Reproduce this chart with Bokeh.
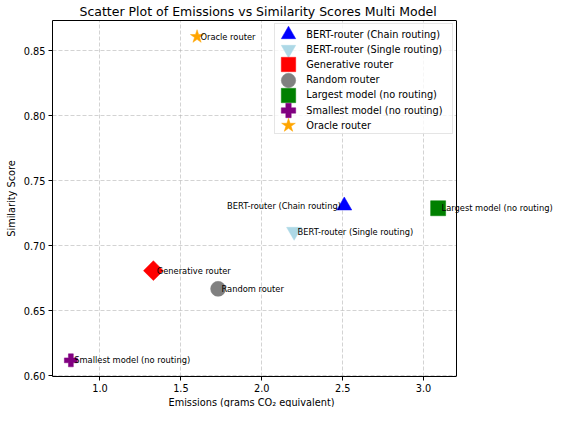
import math
from bokeh.plotting import figure
from bokeh.models import (Range1d, FixedTicker, PrintfTickFormatter, Legend, LegendItem, Label,
                          Span, BoxAnnotation, LinearAxis, Title)
from bokeh.embed import file_html
from bokeh.resources import INLINE

# ---- data ----
routers = [
    "BERT-router (Chain routing)",
    "BERT-router (Single routing)",
    "Generative router",
    "Random router",
    "Largest model (no routing)",
    "Smallest model (no routing)",
    "Oracle router",
]
emissions = [2.51, 2.20, 1.33, 1.73, 3.09, 0.82, 1.60]
similarity = [0.731, 0.711, 0.681, 0.667, 0.729, 0.612, 0.861]
x_ticks = [1.0, 1.5, 2.0, 2.5, 3.0]
y_ticks = [0.60, 0.65, 0.70, 0.75, 0.80, 0.85]

title_text = "Scatter Plot of Emissions vs Similarity Scores Multi Model"
x_label = "Emissions (grams CO\u2082 equivalent)"
y_label = "Similarity Score"

# ---- styles ----
markers = ["triangle", "inverted_triangle", "square", "circle", "square", "plus", "star"]
angles = [0, 0, math.pi / 4, 0, 0, 0, 0]
sizes = [15, 15, 14, 15, 15, 13, 14]
colors = ["blue", "lightblue", "red", "gray", "green", "purple", "orange"]
label_side = ["right", "left", "left", "left", "left", "left", "left"]

FONT = "DejaVu Sans"
AX_W, FRAME_H = 404, 356      # visible axes box
EXTRA_W = 99                  # room right of the axes box for overhanging point labels

# matplotlib-like 5% margins
def padded(vals, frac=0.05):
    lo, hi = min(vals), max(vals)
    pad = (hi - lo) * frac
    return lo - pad, hi + pad

x0, x1 = padded(emissions)
y0, y1 = padded(similarity)
x_end = x1 + (x1 - x0) * EXTRA_W / AX_W

p = figure(
    frame_width=AX_W + EXTRA_W, frame_height=FRAME_H,
    x_range=Range1d(x0, x_end), y_range=Range1d(y0, y1),
    output_backend="svg", toolbar_location=None,
    min_border_left=52, min_border_right=0, min_border_top=0, min_border_bottom=0,
    title=title_text,
)
p.background_fill_color = "white"
p.border_fill_color = "white"
p.outline_line_color = None

p.title.text_font = FONT
p.title.text_font_size = "12.5px"
p.title.text_font_style = "normal"
p.title.text_color = "black"
p.title.align = "left"
p.title.offset = 27
p.title.standoff = 3

for ax, ticks, fmt in ((p.xaxis[0], x_ticks, "%.1f"), (p.yaxis[0], y_ticks, "%.2f")):
    ax.ticker = FixedTicker(ticks=ticks)
    ax.formatter = PrintfTickFormatter(format=fmt)
    ax.axis_label_text_font = FONT
    ax.axis_label_text_font_size = "9.75px"
    ax.axis_label_text_font_style = "normal"
    ax.axis_label_text_color = "black"
    ax.major_label_text_font = FONT
    ax.major_label_text_font_size = "9.75px"
    ax.major_label_text_color = "black"
    ax.axis_line_color = "black"
    ax.major_tick_line_color = "black"
    ax.major_tick_in = 0
    ax.major_tick_out = 4
    ax.minor_tick_line_color = None
    ax.major_label_standoff = 3
    ax.axis_label_standoff = 4
p.yaxis[0].axis_label = y_label
p.xaxis[0].bounds = (x0, x1)

# top spine, limited to the axes box
top = LinearAxis(ticker=FixedTicker(ticks=[]), bounds=(x0, x1), axis_line_color="black",
                 major_tick_line_color=None, minor_tick_line_color=None,
                 major_tick_out=0, major_label_standoff=0, major_label_text_font_size="0px")
p.add_layout(top, "above")

# x axis title, centred under the axes box
p.add_layout(Title(text=x_label, align="left", offset=116, standoff=0,
                   text_font=FONT, text_font_size="9.75px", text_font_style="normal",
                   text_color="black"), "below")

for g, ticks in ((p.xgrid[0], x_ticks), (p.ygrid[0], y_ticks)):
    g.ticker = FixedTicker(ticks=ticks)
    g.grid_line_color = "#b0b0b0"
    g.grid_line_alpha = 0.7
    g.grid_line_width = 0.8
    g.grid_line_dash = "4 2"

renderers = []
for i, name in enumerate(routers):
    r = p.scatter(x=[emissions[i]], y=[similarity[i]], marker=markers[i], size=sizes[i],
                  angle=angles[i], fill_color=colors[i], line_color=colors[i], line_width=0.5)
    renderers.append(r)

# blank area right of the axes box, and the right spine
p.add_layout(BoxAnnotation(left=x1, fill_color="white", fill_alpha=1, line_color=None, level="annotation"))
p.add_layout(Span(location=x1, dimension="height", line_color="black", line_width=1))

# point annotations (may run past the axes box, like matplotlib text)
for i, name in enumerate(routers):
    side = label_side[i]
    p.add_layout(Label(x=emissions[i], y=similarity[i], text=name,
                       x_offset=3.4 if side == "left" else -3.4,
                       text_align=side, text_baseline="middle",
                       text_font=FONT, text_font_size="8.3px", text_color="black"))

# ---- legend: a frame box, then one item legend per row (big markers, 15px pitch) ----
BOX_W, BOX_H, BOX_M = 177, 109, 5
ROW0, PITCH, GLYPH, MARK_X = 9, 15.2, 36, 14.3
box_left = AX_W - BOX_M - BOX_W
box_top = FRAME_H - BOX_M

dummy = p.scatter(x=[], y=[], alpha=0)
box = Legend(items=[LegendItem(label=" ", renderers=[dummy])], location=(box_left, box_top - BOX_H))
box.margin = 0
box.padding = 0
box.glyph_width = BOX_W - 3
box.glyph_height = BOX_H
box.label_standoff = 0
box.label_width = 3
box.label_height = 10
box.border_line_color = "#cccccc"
box.border_line_width = 1
box.background_fill_color = "white"
box.background_fill_alpha = 0.8
p.add_layout(box)

for i, name in enumerate(routers):
    cy = box_top - (ROW0 + PITCH * i)
    lg = Legend(items=[LegendItem(label=name, renderers=[renderers[i]])],
                location=(box_left + MARK_X - GLYPH / 2, cy - GLYPH / 2))
    lg.margin = 0
    lg.padding = 0
    lg.glyph_width = GLYPH
    lg.glyph_height = GLYPH
    lg.label_standoff = 0
    lg.label_height = 10
    lg.label_text_font = FONT
    lg.label_text_font_size = "9.75px"
    lg.label_text_color = "black"
    lg.border_line_color = None
    lg.background_fill_alpha = 0
    p.add_layout(lg)

open("out.html", "w").write(file_html(p, INLINE))
